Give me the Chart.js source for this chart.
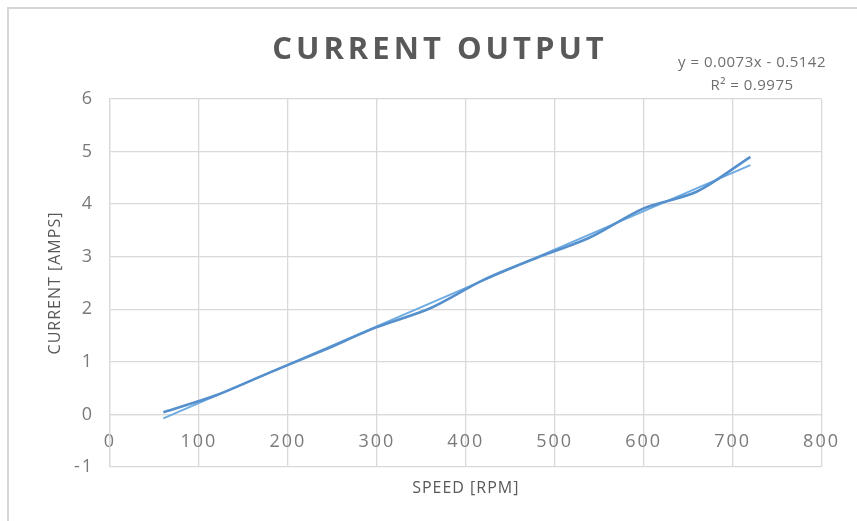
<!doctype html>
<html lang="en">

<head>
  <meta charset="utf-8">
  <title>Current Output</title>
  <style>
    * {
      margin: 0;
      padding: 0;
    }

    html, body {
      width: 857px;
      height: 521px;
      background: #fff;
      overflow: hidden;
    }

    .chartBox {
      position: relative;
      width: 857px;
      height: 521px;
    }
  </style>
</head>

<body>
  <div class="chartBox">
    <canvas id="myChart"></canvas>
  </div>
  <script src="https://cdn.jsdelivr.net/npm/chart.js/dist/chart.umd.min.js"></script>
  <script>
    // data
    const speedRpm = [60, 120, 180, 240, 300, 360, 420, 480, 540, 600, 660, 720];
    const currentAmps = [0.04, 0.37, 0.80, 1.22, 1.66, 2.02, 2.56, 2.98, 3.37, 3.92, 4.24, 4.90];

    // linear trendline end points
    const trendSpeed = [60, 720];
    const trendCurrent = [-0.076, 4.742];

    const xTicks = [0, 100, 200, 300, 400, 500, 600, 700, 800];
    const yTicks = [-1, 0, 1, 2, 3, 4, 5, 6];

    const chartTitle = 'CURRENT OUTPUT';
    const xTitle = 'SPEED [RPM]';
    const yTitle = 'CURRENT [AMPS]';
    const trendLabel = ['y = 0.0073x - 0.5142', 'R\u00B2 = 0.9975'];

    const fontName = '"Open Sans", sans-serif';
    const gridColor = '#d9d9d9';

    const toPoints = (xs, ys) => xs.map((x, i) => ({ x: x, y: ys[i] }));

    // spacing for tick labels, Excel text looks wide here
    const tickSpacing = {
      id: 'tickSpacing',
      beforeUpdate(chart) {
        chart.ctx.letterSpacing = '2px';
      },
      beforeDraw(chart) {
        chart.ctx.letterSpacing = '2px';
      }
    };

    const excelText = {
      id: 'excelText',
      beforeDraw(chart) {
        const { ctx } = chart;
        ctx.save();
        // only the top and left edge of the frame show in the picture
        ctx.strokeStyle = '#d6d6d6';
        ctx.lineWidth = 2;
        ctx.beginPath();
        ctx.moveTo(8, 521);
        ctx.lineTo(8, 8);
        ctx.lineTo(857, 8);
        ctx.stroke();
        ctx.restore();
      },
      afterDraw(chart) {
        const { ctx, chartArea: { left, right, top, bottom } } = chart;
        ctx.save();
        ctx.textAlign = 'center';
        ctx.textBaseline = 'middle';

        // title
        ctx.letterSpacing = '4px';
        ctx.fillStyle = '#595959';
        ctx.font = 'bold 31px ' + fontName;
        ctx.fillText(chartTitle, 440, 50);

        // axis titles
        ctx.letterSpacing = '1px';
        ctx.font = '16px ' + fontName;
        ctx.fillText(xTitle, (left + right) / 2, 488);

        ctx.save();
        ctx.translate(55, (top + bottom) / 2);
        ctx.rotate(-Math.PI / 2);
        ctx.fillText(yTitle, 0, 0);
        ctx.restore();

        // trendline equation
        ctx.letterSpacing = '0.5px';
        ctx.font = '15px ' + fontName;
        ctx.fillStyle = '#6f6f6f';
        ctx.fillText(trendLabel[0], 752, 63);
        ctx.fillText(trendLabel[1], 752, 86);

        ctx.restore();
      }
    };

    const data = {
      datasets: [
        {
          label: 'Current',
          data: toPoints(speedRpm, currentAmps),
          borderColor: '#5590cc',
          borderWidth: 2.6,
          pointRadius: 0,
          tension: 0.3,
          showLine: true,
          fill: false
        },
        {
          label: 'Linear (Current)',
          data: toPoints(trendSpeed, trendCurrent),
          borderColor: '#6caae2',
          borderWidth: 1.8,
          pointRadius: 0,
          tension: 0,
          showLine: true,
          fill: false
        }
      ]
    };

    const config = {
      type: 'scatter',
      data,
      options: {
        responsive: true,
        maintainAspectRatio: false,
        animation: false,
        layout: {
          padding: { top: 99, right: 31, bottom: 54, left: 0 }
        },
        plugins: {
          legend: { display: false },
          tooltip: { enabled: false }
        },
        scales: {
          x: {
            type: 'linear',
            position: { y: 0 },
            min: xTicks[0],
            max: xTicks[xTicks.length - 1],
            afterBuildTicks: (scale) => {
              scale.ticks = xTicks.map(v => ({ value: v }));
            },
            grid: {
              color: gridColor,
              lineWidth: 1.3,
              drawTicks: false
            },
            border: { color: gridColor, width: 1.3 },
            ticks: {
              color: '#7a7a7a',
              padding: 17,
              maxRotation: 0,
              autoSkip: false,
              font: { family: fontName, size: 18 }
            }
          },
          y: {
            type: 'linear',
            position: 'left',
            min: yTicks[0],
            max: yTicks[yTicks.length - 1],
            afterBuildTicks: (scale) => {
              scale.ticks = yTicks.map(v => ({ value: v }));
            },
            afterFit: (scale) => {
              scale.width = 110;
            },
            grid: {
              color: gridColor,
              lineWidth: 1.3,
              drawTicks: false
            },
            border: { color: gridColor, width: 1.3 },
            ticks: {
              color: '#7a7a7a',
              padding: 16,
              font: { family: fontName, size: 18 }
            }
          }
        }
      },
      plugins: [tickSpacing, excelText]
    };

    const ctx = document.getElementById('myChart');
    const myChart = new Chart(ctx, config);
  </script>
</body>

</html>
